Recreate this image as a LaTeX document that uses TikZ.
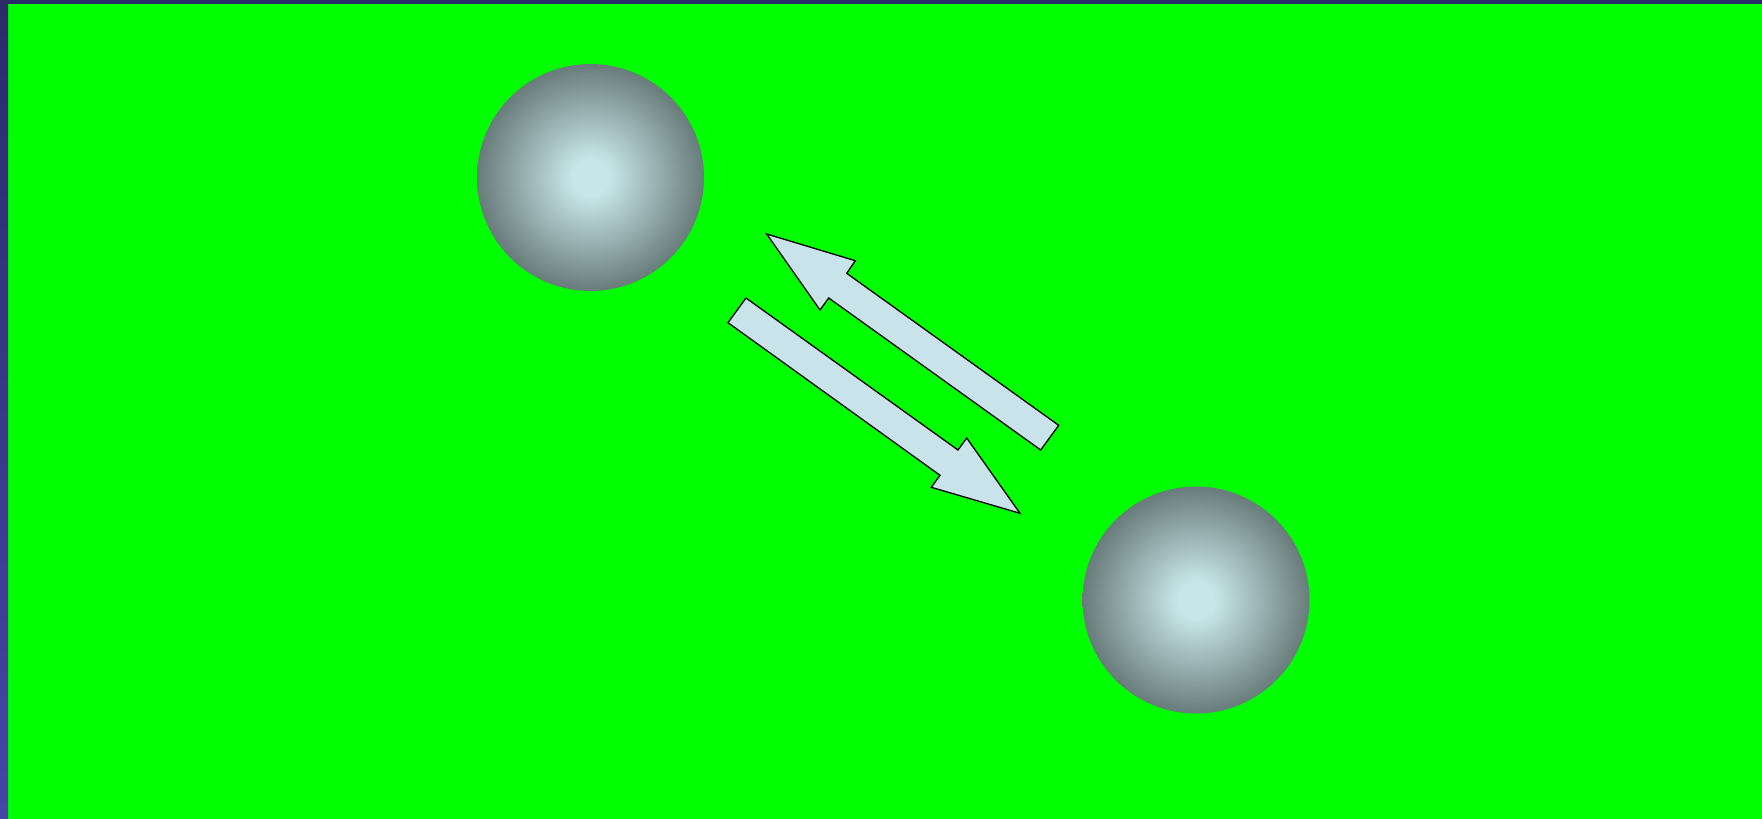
\documentclass[tikz,border=0pt]{standalone}
\usetikzlibrary{shapes.geometric}
\definecolor{bggreen}{HTML}{00FF00}
\definecolor{navytop}{HTML}{2B2B6B}
\definecolor{navybot}{HTML}{4646A8}
\definecolor{ballin}{HTML}{C8E6EA}
\definecolor{ballout}{HTML}{687C7A}
\definecolor{arrowfill}{HTML}{C8E4EA}
\pgfdeclareradialshading{ballshade}{\pgfpoint{0bp}{0bp}}{color(0bp)=(ballin); color(4bp)=(ballin); color(25bp)=(ballout); color(50bp)=(ballout)}
\tikzset{
  ball/.style={circle, minimum size=227pt, inner sep=0pt, draw=none, shading=ballshade},
  bigarrow/.style={fill=arrowfill, draw=black, line width=1.3pt, line join=miter}
}
\begin{document}
\begin{tikzpicture}[x=1pt,y=-1pt]
\useasboundingbox (0,0) rectangle (1762,819);
\fill[bggreen] (0,0) rectangle (1762,819);
\fill[navytop] (0,0) rectangle (1762,4);
\shade[top color=navytop, bottom color=navybot] (0,0) rectangle (8,819);
\node[ball] (b1) at (590.5,177.5) {};
\node[ball] (b2) at (1196,600) {};
% upper arrow (pointing up-left, toward b1)
\draw[bigarrow] (766.7,234) -- (855.3,260.7) -- (846.7,273.3) -- (1058.7,425.3)
  -- (1040.7,450) -- (828.7,298) -- (820,310) -- cycle;
% lower arrow (pointing down-right, toward b2)
\draw[bigarrow] (746,298) -- (958,450) -- (966.7,438) -- (1020,513.3)
  -- (931.3,487.3) -- (940,475.3) -- (728,322.7) -- cycle;
\end{tikzpicture}
\end{document}
